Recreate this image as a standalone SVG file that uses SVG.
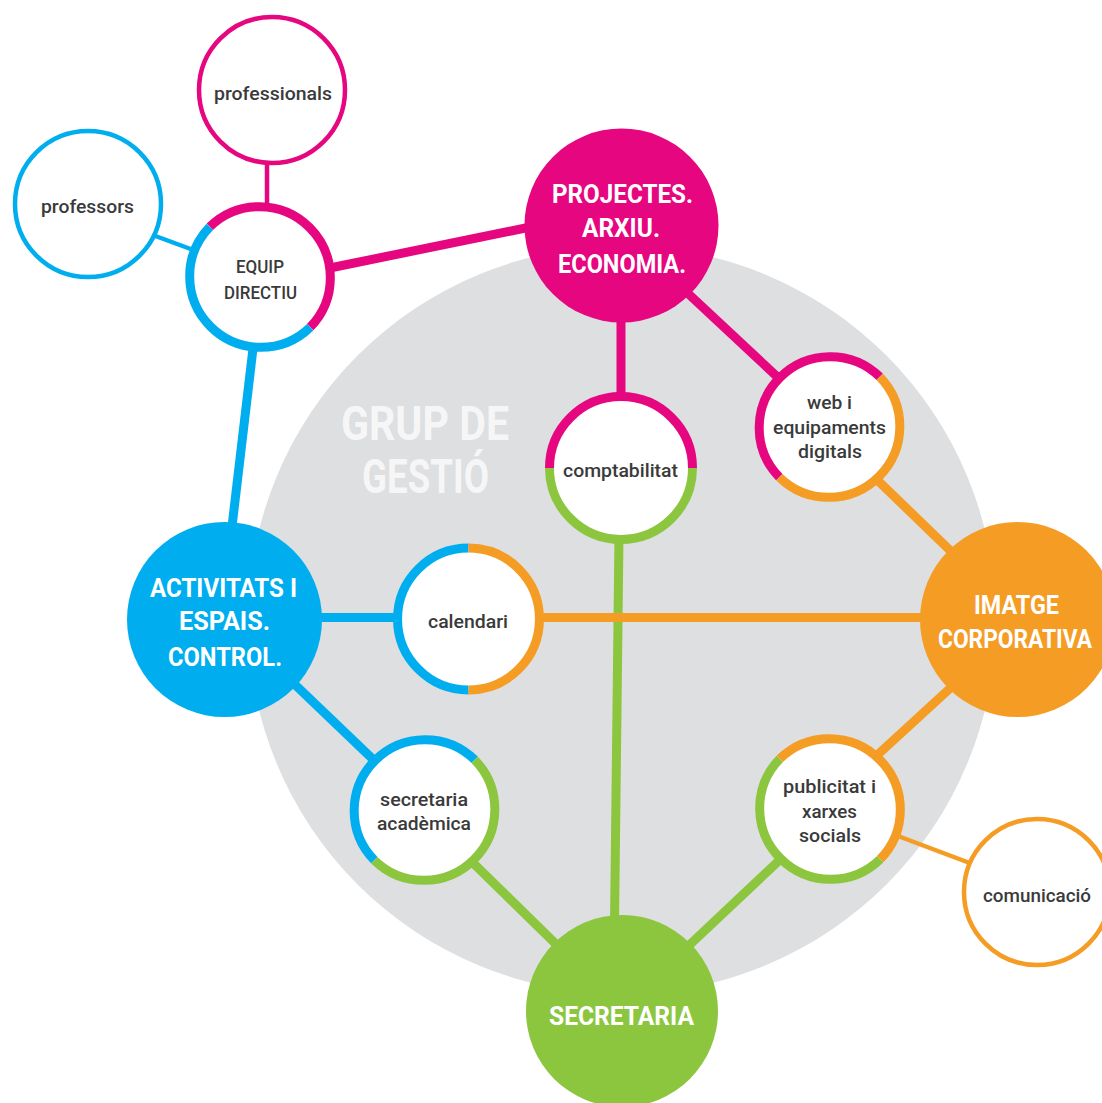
<svg xmlns="http://www.w3.org/2000/svg" width="1102" height="1103" viewBox="0 0 1102 1103">
<style>
.bg{fill:#ffffff}
.gray{fill:#DEDFE1}
.ln{fill:none;stroke-width:9;stroke-linecap:butt}
.thin{fill:none;stroke-width:4.5}
.pk{stroke:#E6067F}
.bl{stroke:#00AEEF}
.or{stroke:#F59C24}
.gr{stroke:#8CC63F}
.ring{fill:none;stroke-width:9}
.wf{fill:#ffffff}
.lbl{font-family:Roboto,"Liberation Sans","DejaVu Sans",sans-serif;font-weight:500;font-size:19px;fill:#3A3A3A}
.ttl{font-family:Roboto,"Liberation Sans","DejaVu Sans",sans-serif;font-weight:700;font-size:26px;fill:#ffffff}
.big{font-family:Roboto,"Liberation Sans","DejaVu Sans",sans-serif;font-weight:700;font-size:48px;fill:#F6F6F6}
</style>
<rect class="bg" x="0" y="0" width="1102" height="1103"/>
<g id="grup-de-gestio">
<circle class="gray" cx="622" cy="620" r="374"/>
<text class="big" x="341" y="440" textLength="168" lengthAdjust="spacingAndGlyphs">GRUP DE</text>
<text class="big" x="362" y="493" textLength="127" lengthAdjust="spacingAndGlyphs">GESTIÓ</text>
</g>
<g id="connectors">
<line class="thin pk" x1="267" y1="158" x2="267" y2="210"/>
<line class="thin bl" x1="150" y1="234" x2="196" y2="251"/>
<line class="ln pk" x1="320" y1="270" x2="545" y2="224"/>
<line class="ln bl" x1="254" y1="340" x2="231" y2="535"/>
<line class="ln pk" x1="621" y1="310" x2="621" y2="400"/>
<line class="ln pk" x1="680" y1="286" x2="785" y2="384"/>
<line class="ln or" x1="870" y1="473" x2="960" y2="560"/>
<line class="ln bl" x1="310" y1="617.5" x2="400" y2="617.5"/>
<line class="ln bl" x1="287" y1="677" x2="380" y2="766"/>
<line class="ln gr" x1="619" y1="535" x2="614.5" y2="925"/>
<line class="ln or" x1="535" y1="617.5" x2="930" y2="617.5"/>
<line class="ln or" x1="958" y1="681" x2="873" y2="759"/>
<line class="ln gr" x1="467" y1="857" x2="563" y2="951"/>
<line class="ln gr" x1="785" y1="855" x2="682" y2="952"/>
<line class="thin or" x1="890" y1="833" x2="975" y2="865"/>
</g>
<g id="professionals">
<circle class="wf thin pk" cx="272" cy="90" r="73"/>
<text class="lbl" x="214" y="100" textLength="118" lengthAdjust="spacingAndGlyphs">professionals</text>
</g>
<g id="professors">
<circle class="wf thin bl" cx="88" cy="204" r="73"/>
<text class="lbl" x="41" y="213" textLength="93" lengthAdjust="spacingAndGlyphs">professors</text>
</g>
<g id="equip-directiu">
<circle class="wf" cx="260" cy="277" r="71"/>
<path class="ring pk" d="M209.8,226.8 A71,71 0 0 1 310.2,327.2"/>
<path class="ring bl" d="M310.2,327.2 A71,71 0 0 1 209.8,226.8"/>
<text class="lbl" x="236" y="273" textLength="48" lengthAdjust="spacingAndGlyphs">EQUIP</text>
<text class="lbl" x="224" y="299" textLength="73" lengthAdjust="spacingAndGlyphs">DIRECTIU</text>
</g>
<g id="projectes">
<circle cx="621.5" cy="225.5" r="97" fill="#E6067F"/>
<text class="ttl" x="552" y="203" textLength="141" lengthAdjust="spacingAndGlyphs">PROJECTES.</text>
<text class="ttl" x="582" y="237" textLength="78" lengthAdjust="spacingAndGlyphs">ARXIU.</text>
<text class="ttl" x="558" y="273" textLength="128" lengthAdjust="spacingAndGlyphs">ECONOMIA.</text>
</g>
<g id="comptabilitat">
<circle class="wf" cx="621" cy="468" r="71.5"/>
<path class="ring pk" d="M549.5,468 A71.5,71.5 0 0 1 692.5,468"/>
<path class="ring gr" d="M692.5,468 A71.5,71.5 0 0 1 549.5,468"/>
<text class="lbl" x="563" y="477" textLength="115" lengthAdjust="spacingAndGlyphs">comptabilitat</text>
</g>
<g id="web">
<circle class="wf" cx="829.5" cy="427" r="71"/>
<path class="ring pk" d="M779.3,477.2 A71,71 0 0 1 879.7,376.8"/>
<path class="ring or" d="M879.7,376.8 A71,71 0 0 1 779.3,477.2"/>
<text class="lbl" x="807" y="409" textLength="45" lengthAdjust="spacingAndGlyphs">web i</text>
<text class="lbl" x="773" y="434" textLength="113" lengthAdjust="spacingAndGlyphs">equipaments</text>
<text class="lbl" x="798" y="458" textLength="64" lengthAdjust="spacingAndGlyphs">digitals</text>
</g>
<g id="activitats">
<circle cx="224.5" cy="619.5" r="97.5" fill="#00AEEF"/>
<text class="ttl" x="150" y="597" textLength="147" lengthAdjust="spacingAndGlyphs">ACTIVITATS I</text>
<text class="ttl" x="179" y="630" textLength="91" lengthAdjust="spacingAndGlyphs">ESPAIS.</text>
<text class="ttl" x="168" y="666" textLength="114" lengthAdjust="spacingAndGlyphs">CONTROL.</text>
</g>
<g id="calendari">
<circle class="wf" cx="468.5" cy="619" r="71"/>
<path class="ring bl" d="M468.5,690 A71,71 0 0 1 468.5,548"/>
<path class="ring or" d="M468.5,548 A71,71 0 0 1 468.5,690"/>
<text class="lbl" x="428" y="628" textLength="80" lengthAdjust="spacingAndGlyphs">calendari</text>
</g>
<g id="imatge">
<circle cx="1017.5" cy="619.5" r="97.5" fill="#F59C24"/>
<text class="ttl" x="974" y="614" textLength="85" lengthAdjust="spacingAndGlyphs">IMATGE</text>
<text class="ttl" x="938" y="648" textLength="154" lengthAdjust="spacingAndGlyphs">CORPORATIVA</text>
</g>
<g id="secretaria-academica">
<circle class="wf" cx="424.5" cy="810" r="71"/>
<path class="ring bl" d="M374.3,860.2 A71,71 0 0 1 474.7,759.8"/>
<path class="ring gr" d="M474.7,759.8 A71,71 0 0 1 374.3,860.2"/>
<text class="lbl" x="380" y="806" textLength="88" lengthAdjust="spacingAndGlyphs">secretaria</text>
<text class="lbl" x="377" y="830" textLength="94" lengthAdjust="spacingAndGlyphs">acadèmica</text>
</g>
<g id="publicitat">
<circle class="wf" cx="830" cy="809" r="71"/>
<path class="ring or" d="M779.8,758.8 A71,71 0 0 1 880.2,859.2"/>
<path class="ring gr" d="M880.2,859.2 A71,71 0 0 1 779.8,758.8"/>
<text class="lbl" x="783" y="793" textLength="93" lengthAdjust="spacingAndGlyphs">publicitat i</text>
<text class="lbl" x="802" y="818" textLength="55" lengthAdjust="spacingAndGlyphs">xarxes</text>
<text class="lbl" x="799" y="842" textLength="62" lengthAdjust="spacingAndGlyphs">socials</text>
</g>
<g id="comunicacio">
<circle class="wf thin or" cx="1037" cy="892" r="73"/>
<text class="lbl" x="983" y="902" textLength="108" lengthAdjust="spacingAndGlyphs">comunicació</text>
</g>
<g id="secretaria">
<circle cx="622" cy="1011" r="96" fill="#8CC63F"/>
<text class="ttl" x="549" y="1025" textLength="145" lengthAdjust="spacingAndGlyphs">SECRETARIA</text>
</g>
</svg>
